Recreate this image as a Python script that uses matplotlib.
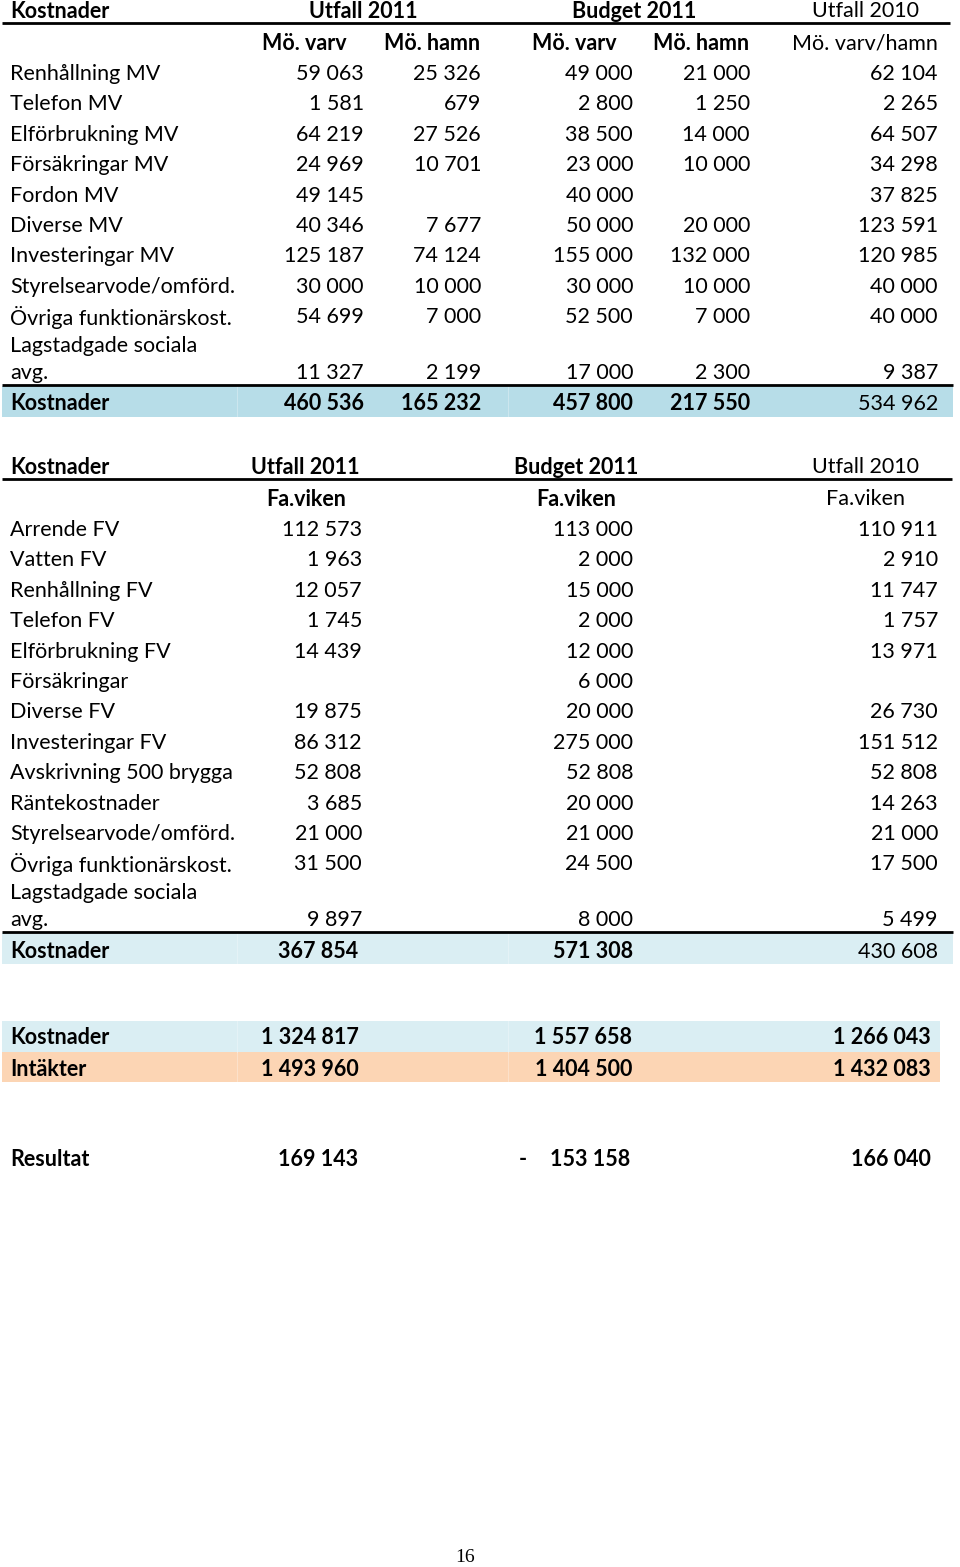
"""Kostnader/intäkter tables rebuilt as a matplotlib figure."""
import matplotlib
matplotlib.use("Agg")
import matplotlib.pyplot as plt
from matplotlib.patches import Rectangle

FONT = "Lato"
FS = 15.5
DY = 2  # va="center" sits a touch high compared with the scan

# --- Table 1: Mö. varv / Mö. hamn ---
mv_labels = ["Renhållning MV", "Telefon MV", "Elförbrukning MV", "Försäkringar MV",
             "Fordon MV", "Diverse MV", "Investeringar MV", "Styrelsearvode/omförd.",
             "Övriga funktionärskost.", "Lagstadgade sociala\navg."]
mv_utfall_varv = [59063, 1581, 64219, 24969, 49145, 40346, 125187, 30000, 54699, 11327]
mv_utfall_hamn = [25326, 679, 27526, 10701, None, 7677, 74124, 10000, 7000, 2199]
mv_budget_varv = [49000, 2800, 38500, 23000, 40000, 50000, 155000, 30000, 52500, 17000]
mv_budget_hamn = [21000, 1250, 14000, 10000, None, 20000, 132000, 10000, 7000, 2300]
mv_utfall_2010 = [62104, 2265, 64507, 34298, 37825, 123591, 120985, 40000, 40000, 9387]
mv_totals = [460536, 165232, 457800, 217550, 534962]

# --- Table 2: Fa.viken ---
fv_labels = ["Arrende FV", "Vatten FV", "Renhållning FV", "Telefon FV", "Elförbrukning FV",
             "Försäkringar", "Diverse FV", "Investeringar FV", "Avskrivning 500 brygga",
             "Räntekostnader", "Styrelsearvode/omförd.", "Övriga funktionärskost.",
             "Lagstadgade sociala\navg."]
fv_utfall_2011 = [112573, 1963, 12057, 1745, 14439, None, 19875, 86312, 52808, 3685, 21000, 31500, 9897]
fv_budget_2011 = [113000, 2000, 15000, 2000, 12000, 6000, 20000, 275000, 52808, 20000, 21000, 24500, 8000]
fv_utfall_2010 = [110911, 2910, 11747, 1757, 13971, None, 26730, 151512, 52808, 14263, 21000, 17500, 5499]
fv_totals = [367854, 571308, 430608]

# --- Summary ---
sum_kostnader = [1324817, 1557658, 1266043]
sum_intakter = [1493960, 1404500, 1432083]
resultat = [169143, -153158, 166040]


def fmt(v):
    if v is None:
        return ""
    return f"{abs(v):,}".replace(",", " ")


fig = plt.figure(figsize=(9.6, 15.67), dpi=100)
ax = fig.add_axes([0, 0, 1, 1])
ax.set_xlim(0, 960)
ax.set_ylim(1567, 0)
ax.axis("off")


def txt(x, y, s, ha="left", bold=False, **kw):
    ax.text(x, y + DY, s, ha=ha, va="center", fontsize=FS, family=FONT,
            fontweight="bold" if bold else "normal", color="black", **kw)


def hline(y, x0, x1, lw=2.0):
    ax.plot([x0, x1], [y, y], color="black", lw=lw, solid_capstyle="butt")


def band(y0, y1, x0, x1, color, gaps=()):
    ax.add_patch(Rectangle((x0, y0), x1 - x0, y1 - y0, color=color, lw=0, zorder=0))
    for g in gaps:
        ax.plot([g, g], [y0, y1], color="white", lw=0.6, alpha=0.35, zorder=0.5)


ROW = 30.4

# ---------------- Table 1 ----------------
txt(10, 9, "Kostnader", bold=True)
txt(363, 9, "Utfall 2011", ha="center", bold=True)
txt(634, 9, "Budget 2011", ha="center", bold=True)
txt(866, 9, "Utfall 2010", ha="center")
hline(23, 2, 950)
sub_x = [347, 480, 617, 749, 938]
txt(sub_x[0], 42, "Mö. varv", ha="right", bold=True)
txt(sub_x[1], 42, "Mö. hamn", ha="right", bold=True)
txt(sub_x[2], 42, "Mö. varv", ha="right", bold=True)
txt(sub_x[3], 42, "Mö. hamn", ha="right", bold=True)
txt(sub_x[4], 42, "Mö. varv/hamn", ha="right")

col_x1 = [364, 481, 633, 750, 938]
cols1 = [mv_utfall_varv, mv_utfall_hamn, mv_budget_varv, mv_budget_hamn, mv_utfall_2010]
y = 72
for i, lab in enumerate(mv_labels):
    if "\n" in lab:
        a, b = lab.split("\n")
        txt(10, y - 2, a)
        y += 25
        txt(10, y, b)
    else:
        txt(10, y, lab)
    for cx, col in zip(col_x1, cols1):
        txt(cx, y, fmt(col[i]), ha="right")
    y += ROW
hline(385, 2, 953)
band(386, 417, 2, 953, "#b7dde8", gaps=(237, 508))
for j, (cx, v) in enumerate(zip(col_x1, mv_totals)):
    txt(cx, 402, fmt(v), ha="right", bold=j < 4)
txt(10, 402, "Kostnader", bold=True)

# ---------------- Table 2 ----------------
txt(10, 465, "Kostnader", bold=True)
txt(305, 465, "Utfall 2011", ha="center", bold=True)
txt(576, 465, "Budget 2011", ha="center", bold=True)
txt(866, 465, "Utfall 2010", ha="center")
hline(479, 2, 952)
txt(306, 497, "Fa.viken", ha="center", bold=True)
txt(576, 497, "Fa.viken", ha="center", bold=True)
txt(866, 497, "Fa.viken", ha="center")

col_x2 = [362, 633, 938]
cols2 = [fv_utfall_2011, fv_budget_2011, fv_utfall_2010]
y = 528
for i, lab in enumerate(fv_labels):
    if "\n" in lab:
        a, b = lab.split("\n")
        txt(10, y - 2, a)
        y += 25
        txt(10, y, b)
    else:
        txt(10, y, lab)
    for cx, col in zip(col_x2, cols2):
        txt(cx, y, fmt(col[i]), ha="right")
    y += ROW
hline(932, 2, 953)
band(933, 964, 2, 953, "#daeef3", gaps=(237, 508))
txt(10, 950, "Kostnader", bold=True)
for j, (cx, v) in enumerate(zip([358, 633, 938], fv_totals)):
    txt(cx, 950, fmt(v), ha="right", bold=j < 2)

# ---------------- Summary ----------------
sum_x = [359, 632, 931]
band(1021, 1052, 2, 940, "#daeef3", gaps=(237, 508))
band(1052, 1082, 2, 940, "#fcd5b4", gaps=(237, 508))
txt(10, 1036, "Kostnader", bold=True)
txt(10, 1067, "Intäkter", bold=True)
for cx, v in zip(sum_x, sum_kostnader):
    txt(cx, 1036, fmt(v), ha="right", bold=True)
for cx, v in zip(sum_x, sum_intakter):
    txt(cx, 1067, fmt(v), ha="right", bold=True)

txt(10, 1158, "Resultat", bold=True)
for cx, v in zip([358, 630, 931], resultat):
    txt(cx, 1158, fmt(v), ha="right", bold=True)
    if v < 0:
        txt(523, 1158, "-", ha="center", bold=True)

ax.text(465, 1558, "16", ha="center", va="center", fontsize=14,
        family="Liberation Serif", color="black")

fig.savefig("out.png", dpi=100)
